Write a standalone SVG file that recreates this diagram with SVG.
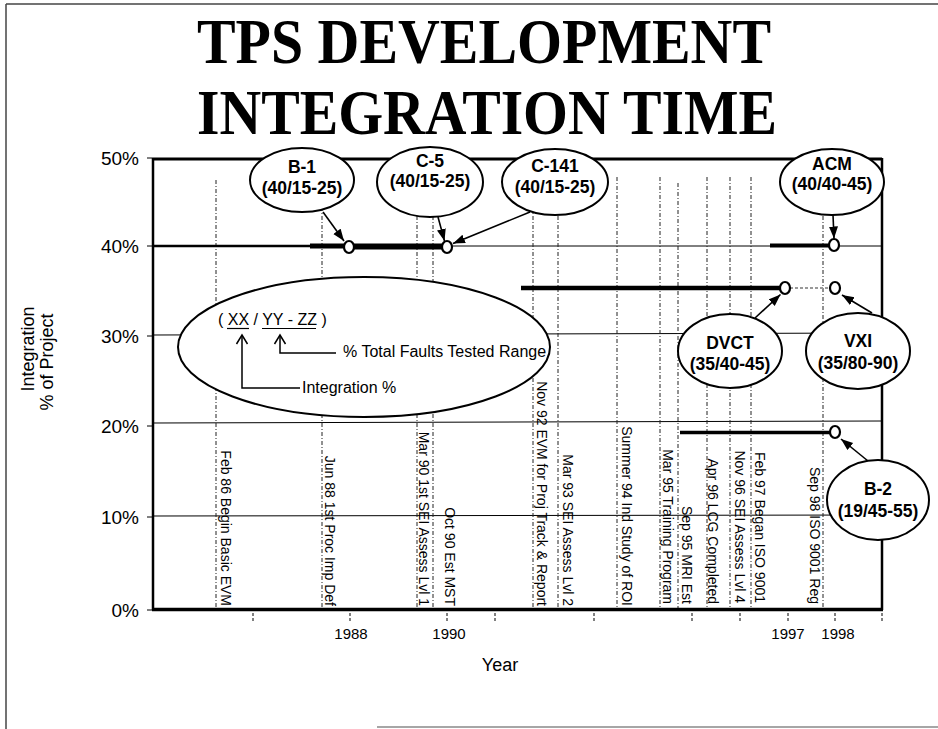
<svg xmlns="http://www.w3.org/2000/svg" width="938" height="729" viewBox="0 0 938 729">
<defs>
<marker id="ah" markerUnits="userSpaceOnUse" markerWidth="13" markerHeight="10" refX="12" refY="4.5" orient="auto"><path d="M0,0 L12,4.5 L0,9 z" fill="#000"/></marker>
</defs>
<style>
.sans{font-family:"Liberation Sans",Arial,sans-serif}
.title{font-family:"Liberation Serif","Times New Roman",serif;font-weight:bold;font-size:64px;text-anchor:middle}
.grid{stroke:#000;stroke-width:1;fill:none}
.ev{stroke:#222;stroke-width:1;stroke-dasharray:4 2 1 2;fill:none}
.evl{font-family:"Liberation Sans",Arial,sans-serif;font-size:14px;text-anchor:end}
.ytl{font-family:"Liberation Sans",Arial,sans-serif;font-size:19px;text-anchor:end}
.xtl{font-family:"Liberation Sans",Arial,sans-serif;font-size:15px;text-anchor:middle}
.tick{stroke:#000;stroke-width:1}
.bub{fill:#fff;stroke:#000;stroke-width:2}
.bt{font-family:"Liberation Sans",Arial,sans-serif;font-weight:bold;font-size:17.5px;text-anchor:middle}
.pt{fill:#fff;stroke:#000;stroke-width:2.2}
.arr{stroke:#000;stroke-width:1.6;fill:none;marker-end:url(#ah)}
.leg{font-family:"Liberation Sans",Arial,sans-serif;font-size:16px}
</style>
<rect width="938" height="729" fill="#fff"/>
<!-- page frame -->
<g id="page-frame" stroke="#444" stroke-width="1.5" fill="none">
<line x1="6" y1="4" x2="938" y2="4"/>
<line x1="6" y1="4" x2="6" y2="729"/>
<line x1="377" y1="727" x2="938" y2="727" stroke="#888"/>
</g>
<g id="title">
<text class="title" x="484" y="63" textLength="574" lengthAdjust="spacingAndGlyphs">TPS DEVELOPMENT</text>
<text class="title" x="487" y="134" textLength="580" lengthAdjust="spacingAndGlyphs">INTEGRATION TIME</text>
</g>
<!-- gridlines -->
<g id="grid">
<line class="grid" x1="153" y1="246" x2="882" y2="246"/>
<line class="grid" x1="153" y1="335" x2="882" y2="333"/>
<line class="grid" x1="153" y1="423" x2="882" y2="421"/>
<line class="grid" x1="153" y1="516" x2="882" y2="515"/>
</g>
<!-- event lines -->
<g id="event-lines">
<line class="ev" x1="216" y1="180" x2="216" y2="609"/>
<line class="ev" x1="322" y1="180" x2="322" y2="609"/>
<line class="ev" x1="417" y1="180" x2="417" y2="609"/>
<line class="ev" x1="433" y1="180" x2="433" y2="609"/>
<line class="ev" x1="533" y1="180" x2="533" y2="609"/>
<line class="ev" x1="558" y1="180" x2="558" y2="609"/>
<line class="ev" x1="617" y1="177" x2="617" y2="609"/>
<line class="ev" x1="660" y1="177" x2="660" y2="609"/>
<line class="ev" x1="678" y1="183" x2="678" y2="609"/>
<line class="ev" x1="707" y1="177" x2="707" y2="609"/>
<line class="ev" x1="730" y1="177" x2="730" y2="609"/>
<line class="ev" x1="751" y1="177" x2="751" y2="609"/>
<line class="ev" x1="823" y1="180" x2="823" y2="609"/>
</g>
<!-- data lines -->
<g id="data-lines" stroke="#000" fill="none">
<line x1="153" y1="246" x2="310" y2="246" stroke-width="2.5"/>
<line x1="310" y1="246" x2="344" y2="246" stroke-width="5"/>
<line x1="354" y1="246.5" x2="442" y2="246.5" stroke-width="6"/>
<line x1="770" y1="245.5" x2="829" y2="245.5" stroke-width="4"/>
<line x1="521" y1="288" x2="780" y2="288" stroke-width="4.5"/>
<line x1="790" y1="288" x2="830" y2="288" stroke="#999" stroke-width="2" stroke-dasharray="3 2"/>
<line x1="680" y1="432.5" x2="830" y2="432.5" stroke-width="3.5"/>
</g>
<!-- legend -->
<g id="legend">
<ellipse cx="364" cy="347" rx="186" ry="70" class="bub"/>
<text class="leg" x="218" y="325">( XX / YY - ZZ )</text>
<line x1="227" y1="328.5" x2="249" y2="328.5" stroke="#000" stroke-width="1.2"/>
<line x1="262" y1="328.5" x2="316" y2="328.5" stroke="#000" stroke-width="1.2"/>
<polyline points="242,336 242,388 300,388" fill="none" stroke="#000" stroke-width="1.5"/>
<polyline points="236.5,344 242,335 247.5,344" fill="none" stroke="#000" stroke-width="1.5"/>
<polyline points="280,336 280,353 336,353" fill="none" stroke="#000" stroke-width="1.5"/>
<polyline points="274.5,344 280,335 285.5,344" fill="none" stroke="#000" stroke-width="1.5"/>
<text class="leg" x="343" y="357">% Total Faults Tested Range</text>
<text class="leg" x="302" y="393">Integration %</text>
</g>
<!-- event labels -->
<g id="event-labels">
<text class="evl" transform="translate(221,606) rotate(90)">Feb 86 Begin Basic EVM</text>
<text class="evl" transform="translate(325,606) rotate(90)">Jun 88 1st Proc Imp Def</text>
<text class="evl" transform="translate(419,606) rotate(90)">Mar 90 1st SEI Assess Lvl 1</text>
<text class="evl" transform="translate(445,606) rotate(90)">Oct 90 Est MST</text>
<text class="evl" transform="translate(537,606) rotate(90)">Nov 92 EVM for Proj Track &amp; Report</text>
<text class="evl" transform="translate(563,606) rotate(90)">Mar 93 SEI Assess Lvl 2</text>
<text class="evl" transform="translate(622,606) rotate(90)">Summer 94 Ind Study of ROI</text>
<text class="evl" transform="translate(663,604) rotate(90)">Mar 95 Training Program</text>
<text class="evl" transform="translate(682,604) rotate(90)">Sep 95 MRI Est</text>
<text class="evl" transform="translate(708,604) rotate(90)">Apr 96 LCG Completed</text>
<text class="evl" transform="translate(735,603) rotate(90)">Nov 96 SEI Assess Lvl 4</text>
<text class="evl" transform="translate(755,603) rotate(90)">Feb 97 Began ISO 9001</text>
<text class="evl" transform="translate(810,604) rotate(90)">Sep 98 ISO 9001 Reg</text>
</g>
<!-- axes -->
<g id="axes">
<line x1="153" y1="159" x2="882" y2="159" stroke="#000" stroke-width="3"/>
<line x1="153" y1="158" x2="153" y2="610" stroke="#000" stroke-width="2.5"/>
<line x1="882" y1="158" x2="882" y2="610" stroke="#000" stroke-width="2.5"/>
<line x1="152" y1="609.5" x2="883" y2="609.5" stroke="#000" stroke-width="3.5"/>
<g class="tick">
<line x1="147" y1="158" x2="153" y2="158"/>
<line x1="147" y1="246" x2="153" y2="246"/>
<line x1="147" y1="336" x2="153" y2="336"/>
<line x1="147" y1="426" x2="153" y2="426"/>
<line x1="147" y1="517" x2="153" y2="517"/>
<line x1="147" y1="610" x2="153" y2="610"/>
</g>
<g class="tick" stroke-dasharray="3 2">
<line x1="253" y1="613" x2="253" y2="621"/>
<line x1="350" y1="613" x2="350" y2="621"/>
<line x1="447" y1="613" x2="447" y2="621"/>
<line x1="495" y1="613" x2="495" y2="621"/>
<line x1="594" y1="613" x2="594" y2="621"/>
<line x1="692" y1="613" x2="692" y2="621"/>
<line x1="740" y1="613" x2="740" y2="621"/>
<line x1="788" y1="613" x2="788" y2="621"/>
<line x1="835" y1="613" x2="835" y2="621"/>
<line x1="882" y1="613" x2="882" y2="621"/>
</g>
<text class="ytl" x="139" y="165">50%</text>
<text class="ytl" x="139" y="253">40%</text>
<text class="ytl" x="139" y="343">30%</text>
<text class="ytl" x="139" y="433">20%</text>
<text class="ytl" x="139" y="524">10%</text>
<text class="ytl" x="139" y="617">0%</text>
<text class="xtl" x="351" y="639">1988</text>
<text class="xtl" x="449" y="639">1990</text>
<text class="xtl" x="788" y="639">1997</text>
<text class="xtl" x="838" y="639">1998</text>
<text class="sans" x="500" y="671" font-size="18" text-anchor="middle">Year</text>
<text class="sans" font-size="18" text-anchor="middle" transform="translate(34,349) rotate(-90)">Integration</text>
<text class="sans" font-size="18" text-anchor="middle" transform="translate(53,362) rotate(-90)">% of Project</text>
</g>
<!-- callout nodes -->
<g id="node-b1"><ellipse class="bub" cx="302" cy="180" rx="52" ry="32"/><text class="bt" x="302" y="173">B-1</text><text class="bt" x="302" y="194">(40/15-25)</text></g>
<g id="node-c5"><ellipse class="bub" cx="430" cy="182" rx="53" ry="35"/><text class="bt" x="430" y="167">C-5</text><text class="bt" x="430" y="187">(40/15-25)</text></g>
<g id="node-c141"><ellipse class="bub" cx="555" cy="182" rx="53" ry="33"/><text class="bt" x="555" y="172">C-141</text><text class="bt" x="555" y="193">(40/15-25)</text></g>
<g id="node-acm"><ellipse class="bub" cx="832" cy="182" rx="52" ry="33"/><text class="bt" x="832" y="170">ACM</text><text class="bt" x="832" y="190">(40/40-45)</text></g>
<g id="node-dvct"><ellipse class="bub" cx="730" cy="351" rx="52" ry="37"/><text class="bt" x="730" y="349">DVCT</text><text class="bt" x="730" y="370">(35/40-45)</text></g>
<g id="node-vxi"><ellipse class="bub" cx="858" cy="351" rx="52" ry="38"/><text class="bt" x="858" y="347">VXI</text><text class="bt" x="858" y="369">(35/80-90)</text></g>
<g id="node-b2"><ellipse class="bub" cx="878" cy="500" rx="51" ry="40"/><text class="bt" x="878" y="495">B-2</text><text class="bt" x="878" y="517">(19/45-55)</text></g>
<!-- connectors -->
<g id="connectors">
<line class="arr" x1="323" y1="212" x2="344" y2="241"/>
<line class="arr" x1="438" y1="217" x2="444.5" y2="241"/>
<line class="arr" x1="530" y1="212" x2="453" y2="243.5"/>
<line class="arr" x1="833" y1="215" x2="834" y2="238.5"/>
<line class="arr" x1="755" y1="318" x2="780.5" y2="294.5"/>
<line class="arr" x1="872" y1="313" x2="842" y2="295"/>
<line class="arr" x1="868" y1="461" x2="841" y2="439"/>
</g>
<!-- data points -->
<g id="points">
<ellipse class="pt" cx="349" cy="247" rx="5" ry="6"/>
<ellipse class="pt" cx="447" cy="247" rx="5" ry="6"/>
<ellipse class="pt" cx="834" cy="245" rx="5" ry="6"/>
<ellipse class="pt" cx="785" cy="288" rx="5" ry="6"/>
<ellipse class="pt" cx="835" cy="288" rx="5" ry="6"/>
<ellipse class="pt" cx="835" cy="432" rx="5" ry="6"/>
</g>
</svg>
